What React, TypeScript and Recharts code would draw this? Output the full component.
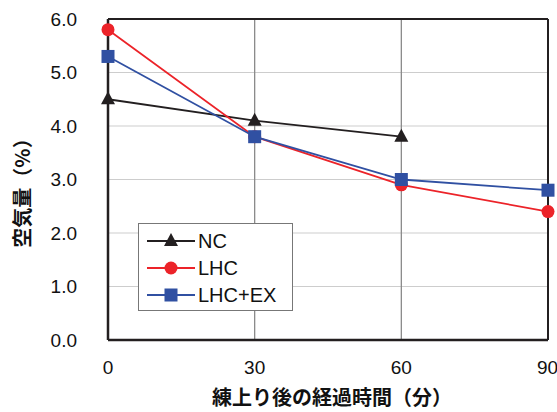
import { LineChart, Line, XAxis, YAxis, CartesianGrid, ReferenceLine } from "recharts"

// 練上り後の経過時間(分)
const minutes = [0, 30, 60, 90]
const ncValues = [4.5, 4.1, 3.8, null]
const lhcValues = [5.8, 3.8, 2.9, 2.4]
const lhcExValues = [5.3, 3.8, 3.0, 2.8]
const yTicks = [0, 1, 2, 3, 4, 5, 6]

const data = minutes.map((t, i) => ({
  t,
  nc: ncValues[i],
  lhc: lhcValues[i],
  lhcEx: lhcExValues[i],
}))

const FONT = "'Liberation Sans', Arial, 'Noto Sans CJK JP', sans-serif"
const JP_FONT = "'Noto Sans CJK JP', sans-serif"
const RED = "#ec2329"
const BLUE = "#3050a2"
const BLACK = "#231f20"

const Marker = ({ kind, cx, cy }: { kind: string; cx: number; cy: number }) => {
  if (cx == null || cy == null) return null
  if (kind === "tri") {
    return <polygon points={`${cx},${cy - 8} ${cx - 7},${cy + 5} ${cx + 7},${cy + 5}`} fill={BLACK} />
  }
  if (kind === "circle") {
    return <circle cx={cx} cy={cy} r={6.5} fill={RED} />
  }
  return <rect x={cx - 6.5} y={cy - 6.5} width={13} height={13} fill={BLUE} />
}

const dot = (kind: string) => (props: any) => (
  <Marker key={`${kind}-${props.index}`} kind={kind} cx={props.cx} cy={props.cy} />
)

const legendItems = [
  { label: "NC", color: BLACK, kind: "tri" },
  { label: "LHC", color: RED, kind: "circle" },
  { label: "LHC+EX", color: BLUE, kind: "square" },
]

// overlay: legend box and the two axis titles
const Overlay = () => (
  <svg width={557} height={412} style={{ position: "absolute", left: 0, top: 0, pointerEvents: "none" }}>
    <g transform="translate(138,223)">
      <rect x={0.5} y={0.5} width={154} height={87} fill="#fff" stroke="#777" />
      {legendItems.map((it, i) => {
        const y = 18 + i * 27
        return (
          <g key={it.label}>
            <line x1={9} x2={57} y1={y} y2={y} stroke={it.color} strokeWidth={2} />
            <Marker kind={it.kind} cx={33} cy={y} />
            <text x={60} y={y + 7} fontSize={20} fontFamily={FONT} fill="#111">
              {it.label}
            </text>
          </g>
        )
      })}
    </g>
    <text
      x={332}
      y={405}
      textAnchor="middle"
      fontSize={20}
      fontWeight="bold"
      fontFamily={JP_FONT}
      fill="#111"
    >
      練上り後の経過時間（分）
    </text>
    <text
      transform="translate(30,188) rotate(-90)"
      textAnchor="middle"
      fontSize={20}
      fontWeight="bold"
      fontFamily={JP_FONT}
      fill="#111"
    >
      空気量（%）
    </text>
  </svg>
)

export default function App() {
  return (
    <div style={{ position: "absolute", left: 0, top: 0, width: 557, height: 412, background: "#fff" }}>
      <LineChart width={557} height={412} data={data} margin={{ top: 19, right: 9, bottom: 0, left: 0 }}>
        <CartesianGrid vertical={false} stroke="#cdcdcd" strokeWidth={1.2} />
        <XAxis
          dataKey="t"
          type="number"
          domain={[0, 90]}
          ticks={minutes}
          height={72}
          axisLine={{ stroke: BLACK, strokeWidth: 2.5 }}
          tickLine={false}
          tickMargin={15}
          tick={{ fontSize: 19, fill: "#111", fontFamily: FONT }}
        />
        <YAxis
          domain={[0, 6]}
          ticks={yTicks}
          width={108}
          axisLine={{ stroke: BLACK, strokeWidth: 2.5 }}
          tickLine={false}
          tickMargin={25}
          tickFormatter={(v: number) => v.toFixed(1)}
          tick={{ fontSize: 19, fill: "#111", fontFamily: FONT }}
        />
        <ReferenceLine x={30} stroke="#8a8a8a" strokeWidth={1.3} />
        <ReferenceLine x={60} stroke="#8a8a8a" strokeWidth={1.3} />
        <ReferenceLine y={6} stroke={BLACK} strokeWidth={2} />
        <ReferenceLine x={90} stroke={BLACK} strokeWidth={2} />
        <Line
          dataKey="nc"
          stroke={BLACK}
          strokeWidth={1.8}
          dot={dot("tri")}
          isAnimationActive={false}
          connectNulls={false}
        />
        <Line dataKey="lhc" stroke={RED} strokeWidth={1.8} dot={dot("circle")} isAnimationActive={false} />
        <Line dataKey="lhcEx" stroke={BLUE} strokeWidth={1.8} dot={dot("square")} isAnimationActive={false} />
      </LineChart>
      <Overlay />
    </div>
  )
}
